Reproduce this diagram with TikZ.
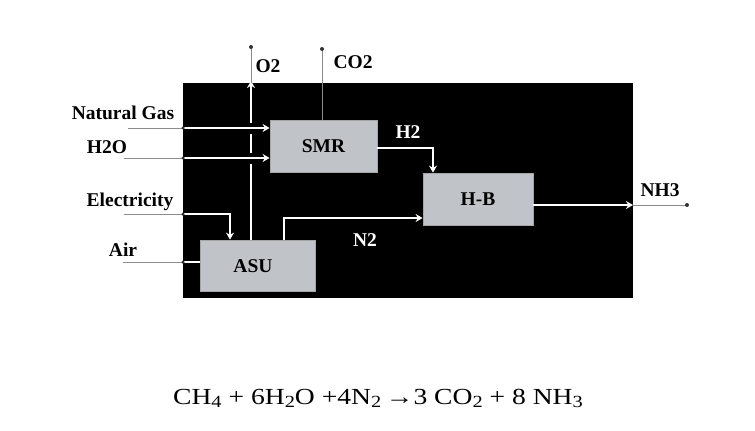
\documentclass[tikz,border=0pt]{standalone}
\usepackage{fontspec}
\setmainfont{Liberation Serif}
\usetikzlibrary{arrows.meta}
\definecolor{boxgray}{RGB}{192,196,201}
\definecolor{feedgray}{RGB}{140,140,140}
\newcommand{\sbs}[1]{\raisebox{-0.15em}{\fontsize{17}{17}\selectfont #1}}
\begin{document}
\begin{tikzpicture}[x=1pt,y=-1pt,
  lbl/.style={font=\fontsize{19.5}{20}\selectfont\bfseries, inner sep=0pt},
  wlbl/.style={lbl, text=white},
  unit/.style={draw=gray!70, line width=0.8pt, fill=boxgray, inner sep=0pt},
  flow/.style={draw=white, line width=2pt, -{Stealth[length=7pt,width=8pt]}},
  plain/.style={draw=white, line width=2pt},
  gapped/.style={preaction={draw=black, line width=11pt, -}},
  feed/.style={draw=feedgray, line width=0.9pt},
  enddot/.style={circle, fill=black!80, inner sep=0pt, minimum size=4pt}]
  \useasboundingbox (0,0) rectangle (755,431);
  % plant boundary
  \fill[black] (183,83) rectangle (633,298);
  % process units
  \node[unit, minimum width=107pt, minimum height=52pt] (smr) at (323.5,146) {};
  \node[unit, minimum width=110pt, minimum height=52pt] (hb) at (478,199) {};
  \node[unit, minimum width=115pt, minimum height=51pt] (asu) at (257.5,265.5) {};
  \node[lbl] at (smr.center) {SMR};
  \node[lbl] at (hb.center) {H-B};
  \node[lbl] at (253,266.5) {ASU};
  % feed points on the boundary and free ends
  \coordinate (ngin) at (183,128);
  \coordinate (h2oin) at (183,158);
  \coordinate (elin) at (183,214);
  \coordinate (airin) at (183,262);
  \coordinate (ngsrc) at (128,128);
  \coordinate (h2osrc) at (124,158);
  \coordinate (elsrc) at (124,214);
  \coordinate (airsrc) at (123,262);
  \coordinate (o2out) at (251,83);
  \coordinate (o2end) at (251,47);
  \coordinate (co2end) at (322,49);
  \coordinate (nh3out) at (633,205);
  \coordinate (nh3end) at (687,205);
  % oxygen vent from the ASU
  \draw[plain] ([yshift=2pt]o2out) -- (o2out);
  \draw[flow] (asu.north -| o2out) -- ([yshift=2pt]o2out);
  \draw[feed] (o2out) -- (o2end);
  \node[enddot] at (o2end) {};
  % CO2 vent from the SMR
  \draw[feed] (smr.north -| co2end) -- (co2end);
  \node[enddot] at (co2end) {};
  % feeds
  \draw[feed] (ngsrc) -- (ngin);
  \draw[feed] (h2osrc) -- (h2oin);
  \draw[feed] (elsrc) -- (elin);
  \draw[feed] (airsrc) -- (airin);
  \draw[flow, gapped] (ngin) -- (ngin -| smr.west);
  \draw[flow, gapped] (h2oin) -- (h2oin -| smr.west);
  \draw[flow] (elin) -| ([xshift=-27.5pt]asu.north);
  \draw[plain] (airin) -- (airin -| asu.west);
  \foreach \p in {ngin,h2oin,elin,airin} \node[enddot, minimum size=3.5pt] at (\p) {};
  % hydrogen and nitrogen to the Haber-Bosch loop
  \draw[flow] (smr.east |- 0,148) -| ([xshift=-45pt]hb.north);
  \draw[flow] ([xshift=26.5pt]asu.north) |- (hb.west |- 0,218);
  % ammonia product
  \draw[flow] (hb.east |- nh3out) -- (nh3out);
  \draw[feed] (nh3out) -- (nh3end);
  \node[enddot] at (nh3end) {};
  % stream labels
  \node[lbl] at (123,113) {Natural Gas};
  \node[lbl] at (107,147) {H2O};
  \node[lbl] at (130,202) {Electricity};
  \node[lbl] at (123,250) {Air};
  \node[lbl] at (268,66) {O2};
  \node[lbl] at (353,62) {CO2};
  \node[wlbl] at (408,132) {H2};
  \node[wlbl] at (365,240) {N2};
  \node[lbl] at (660,190) {NH3};
  % overall reaction
  \node[inner sep=0pt, anchor=base, font=\fontsize{23}{24}\selectfont, xscale=1.2] (eq) at (378,404)
    {CH\sbs{4} + 6H\sbs{2}O +4N\sbs{2}\,→3 CO\sbs{2} + 8 NH\sbs{3}};
\end{tikzpicture}
\end{document}
